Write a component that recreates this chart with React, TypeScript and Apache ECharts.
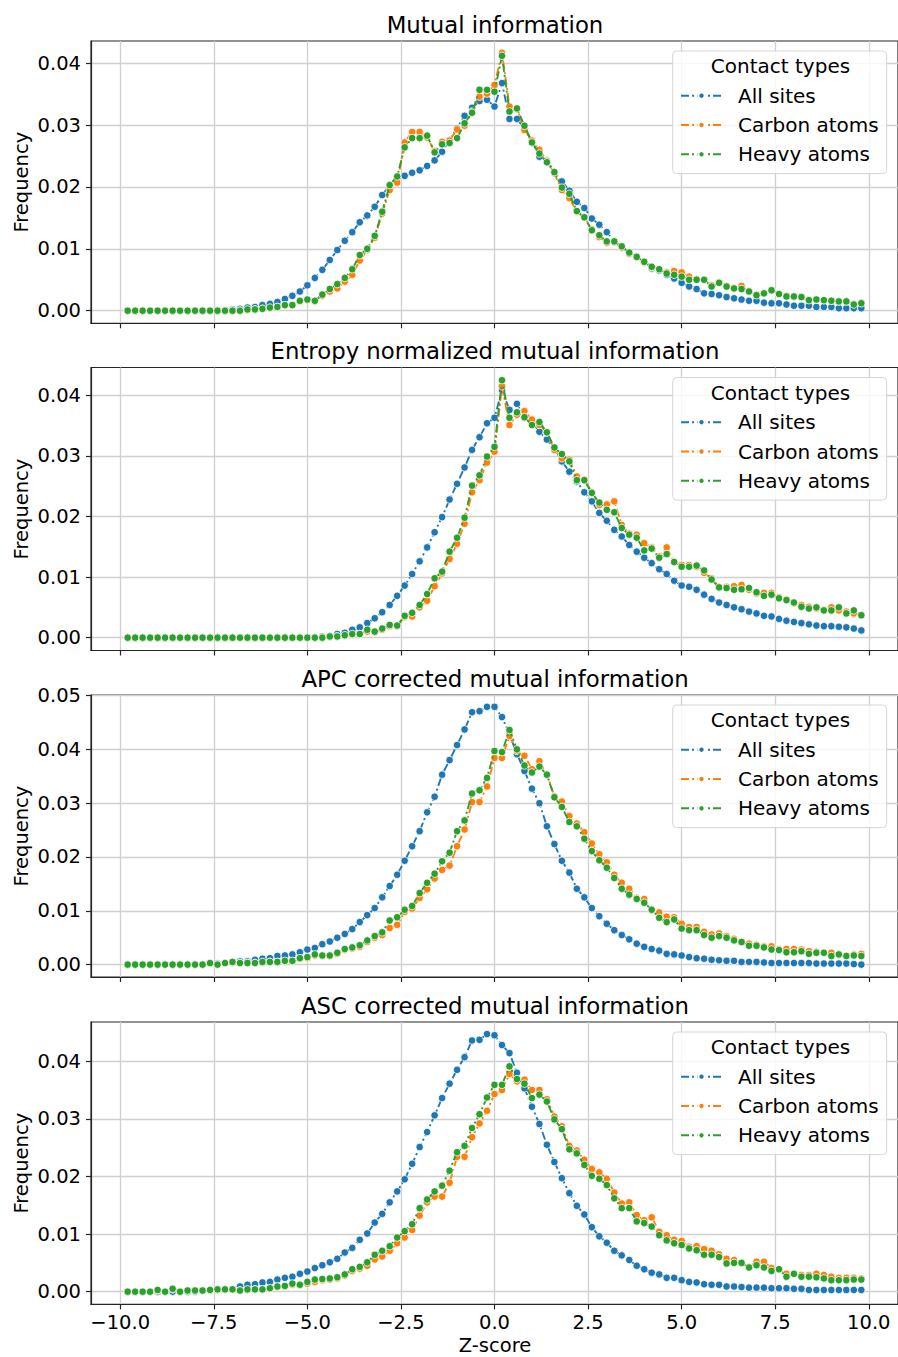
import React, { useEffect, useRef } from "react";
import * as echarts from "echarts";

// ---------------- data ----------------
const Z_SCORE = [
  -9.8, -9.6, -9.4, -9.2, -9.0, -8.8, -8.6, -8.4, -8.2, -8.0,
  -7.8, -7.6, -7.4, -7.2, -7.0, -6.8, -6.6, -6.4, -6.2, -6.0,
  -5.8, -5.6, -5.4, -5.2, -5.0, -4.8, -4.6, -4.4, -4.2, -4.0,
  -3.8, -3.6, -3.4, -3.2, -3.0, -2.8, -2.6, -2.4, -2.2, -2.0,
  -1.8, -1.6, -1.4, -1.2, -1.0, -0.8, -0.6, -0.4, -0.2, 0.0,
  0.2, 0.4, 0.6, 0.8, 1.0, 1.2, 1.4, 1.6, 1.8, 2.0,
  2.2, 2.4, 2.6, 2.8, 3.0, 3.2, 3.4, 3.6, 3.8, 4.0,
  4.2, 4.4, 4.6, 4.8, 5.0, 5.2, 5.4, 5.6, 5.8, 6.0,
  6.2, 6.4, 6.6, 6.8, 7.0, 7.2, 7.4, 7.6, 7.8, 8.0,
  8.2, 8.4, 8.6, 8.8, 9.0, 9.2, 9.4, 9.6, 9.8,
];

const SERIES_NAMES = ["All sites", "Carbon atoms", "Heavy atoms"];
const PANEL_TITLES = [
  "Mutual information",
  "Entropy normalized mutual information",
  "APC corrected mutual information",
  "ASC corrected mutual information",
];
const X_TICKS = [-10, -7.5, -5, -2.5, 0, 2.5, 5, 7.5, 10];
const Y_TICKS_A = [0, 0.01, 0.02, 0.03, 0.04];
const Y_TICKS_B = [0, 0.01, 0.02, 0.03, 0.04, 0.05];

// Panel 1: Mutual information
const MI_ALL = [
  0, 0, 0, 0, 0, 0, 0, 0, 0, 0, 0, 0, 0.0001, 0.0001, 0.0002,
  0.0003, 0.0005, 0.0006, 0.0009, 0.0011, 0.0014, 0.0019, 0.0024, 0.0031, 0.0041,
  0.0053, 0.0066, 0.0082, 0.0098, 0.0113, 0.0127, 0.0143, 0.0154, 0.0168, 0.0187,
  0.0203, 0.0214, 0.0218, 0.0223, 0.0227, 0.0234, 0.0243, 0.0257, 0.0276, 0.0295,
  0.0315, 0.0328, 0.0339, 0.0341, 0.0330,
  0.0368, 0.0310, 0.0310, 0.0295, 0.0275, 0.0249, 0.0243, 0.0224, 0.0209, 0.0194,
  0.0176, 0.0166, 0.0149, 0.0139, 0.0127, 0.0112, 0.0102, 0.0093, 0.0087, 0.0078,
  0.0068, 0.0065, 0.0058, 0.0052, 0.0045, 0.0039, 0.0035, 0.0028, 0.0027, 0.0025,
  0.0022, 0.0020, 0.0018, 0.0016, 0.0016, 0.0013, 0.0012, 0.0012, 0.0010, 0.0008,
  0.0008, 0.0008, 0.0006, 0.0006, 0.0006, 0.0004, 0.0004, 0.0004, 0.0004,
];
const MI_CARBON = [
  0, 0, 0, 0, 0, 0, 0, 0, 0, 0, 0, 0, 0, 0, 0, 0,
  0.0001, 0.0002, 0.0003, 0.0004, 0.0006, 0.0008, 0.0009, 0.0015, 0.0017,
  0.0015, 0.0024, 0.0031, 0.0036, 0.0047, 0.0058, 0.0081, 0.0098, 0.0118, 0.0157,
  0.0195, 0.0207, 0.0272, 0.0289, 0.0289, 0.0280, 0.0258, 0.0273, 0.0275, 0.0293,
  0.0299, 0.0322, 0.0346, 0.0351, 0.0365,
  0.0417, 0.0330, 0.0327, 0.0292, 0.0275, 0.0260, 0.0242, 0.0222, 0.0195, 0.0182,
  0.0160, 0.0150, 0.0132, 0.0119, 0.0110, 0.0111, 0.0102, 0.0092, 0.0086, 0.0078,
  0.0070, 0.0067, 0.0062, 0.0064, 0.0062, 0.0055, 0.0051, 0.0050, 0.0041, 0.0046,
  0.0040, 0.0037, 0.0040, 0.0032, 0.0026, 0.0028, 0.0033, 0.0027, 0.0024, 0.0023,
  0.0022, 0.0018, 0.0018, 0.0017, 0.0016, 0.0015, 0.0015, 0.0011, 0.0013,
];
const MI_HEAVY = [
  0, 0, 0, 0, 0, 0, 0, 0, 0, 0, 0, 0, 0, 0, 0, 0,
  0.0002, 0.0002, 0.0003, 0.0005, 0.0006, 0.0009, 0.0009, 0.0016, 0.0018,
  0.0016, 0.0026, 0.0035, 0.0043, 0.0053, 0.0067, 0.0090, 0.0100, 0.0121, 0.0160,
  0.0203, 0.0217, 0.0264, 0.0279, 0.0279, 0.0283, 0.0256, 0.0269, 0.0271, 0.0279,
  0.0303, 0.0320, 0.0357, 0.0357, 0.0354,
  0.0412, 0.0322, 0.0327, 0.0299, 0.0272, 0.0254, 0.0240, 0.0224, 0.0199, 0.0189,
  0.0161, 0.0151, 0.0130, 0.0122, 0.0112, 0.0112, 0.0104, 0.0094, 0.0087, 0.0079,
  0.0071, 0.0067, 0.0060, 0.0058, 0.0055, 0.0050, 0.0050, 0.0050, 0.0039, 0.0045,
  0.0039, 0.0036, 0.0035, 0.0031, 0.0025, 0.0028, 0.0033, 0.0027, 0.0023, 0.0023,
  0.0022, 0.0017, 0.0018, 0.0017, 0.0016, 0.0015, 0.0015, 0.0010, 0.0012,
];

// Panel 2: Entropy normalized mutual information
const NMI_ALL = [
  0, 0, 0, 0, 0, 0, 0, 0, 0, 0, 0, 0, 0, 0, 0, 0, 0, 0, 0, 0, 0, 0, 0, 0,
  0.0001, 0.0001, 0.0002,
  0.0003, 0.0006, 0.0008, 0.0013, 0.0017, 0.0024, 0.0032, 0.0042,
  0.0054, 0.0069, 0.0086, 0.0105, 0.0126, 0.0149, 0.0174, 0.0199, 0.0228, 0.0254,
  0.0281, 0.0310, 0.0331, 0.0354, 0.0363,
  0.0409, 0.0376, 0.0386, 0.0363, 0.0357, 0.0340, 0.0327, 0.0313, 0.0291, 0.0274,
  0.0258, 0.0240, 0.0225, 0.0206, 0.0193, 0.0178, 0.0167, 0.0153, 0.0142, 0.0132,
  0.0123, 0.0113, 0.0105, 0.0094, 0.0086, 0.0084, 0.0079, 0.0071, 0.0064, 0.0058,
  0.0054, 0.0050, 0.0047, 0.0043, 0.0040, 0.0036, 0.0035, 0.0031, 0.0028, 0.0026,
  0.0024, 0.0022, 0.0020, 0.0019, 0.0019, 0.0018, 0.0017, 0.0015, 0.0012,
];
const NMI_CARBON = [
  0, 0, 0, 0, 0, 0, 0, 0, 0, 0, 0, 0, 0, 0, 0, 0, 0, 0, 0, 0, 0, 0, 0, 0, 0, 0, 0,
  0.0001, 0.0002, 0.0003, 0.0005, 0.0006, 0.0010, 0.0009, 0.0013,
  0.0019, 0.0019, 0.0034, 0.0035, 0.0050, 0.0061, 0.0085, 0.0106, 0.0130, 0.0155,
  0.0188, 0.0240, 0.0260, 0.0289, 0.0307,
  0.0415, 0.0351, 0.0368, 0.0374, 0.0360, 0.0351, 0.0339, 0.0310, 0.0296, 0.0294,
  0.0266, 0.0261, 0.0240, 0.0219, 0.0220, 0.0225, 0.0186, 0.0172, 0.0170, 0.0156,
  0.0149, 0.0134, 0.0149, 0.0125, 0.0120, 0.0120, 0.0117, 0.0107, 0.0098, 0.0084,
  0.0084, 0.0085, 0.0087, 0.0079, 0.0073, 0.0074, 0.0074, 0.0067, 0.0063, 0.0057,
  0.0054, 0.0051, 0.0048, 0.0046, 0.0050, 0.0045, 0.0043, 0.0040, 0.0037,
];
const NMI_HEAVY = [
  0, 0, 0, 0, 0, 0, 0, 0, 0, 0, 0, 0, 0, 0, 0, 0, 0, 0, 0, 0, 0, 0, 0, 0, 0, 0, 0,
  0.0002, 0.0002, 0.0004, 0.0006, 0.0006, 0.0013, 0.0010, 0.0015,
  0.0021, 0.0020, 0.0036, 0.0041, 0.0054, 0.0072, 0.0098, 0.0109, 0.0142, 0.0165,
  0.0198, 0.0251, 0.0268, 0.0299, 0.0315,
  0.0425, 0.0363, 0.0372, 0.0364, 0.0351, 0.0356, 0.0339, 0.0314, 0.0303, 0.0291,
  0.0260, 0.0260, 0.0239, 0.0223, 0.0211, 0.0207, 0.0181, 0.0170, 0.0165, 0.0144,
  0.0147, 0.0132, 0.0138, 0.0125, 0.0117, 0.0117, 0.0119, 0.0111, 0.0096, 0.0083,
  0.0082, 0.0079, 0.0080, 0.0082, 0.0075, 0.0069, 0.0071, 0.0065, 0.0062, 0.0058,
  0.0051, 0.0048, 0.0050, 0.0045, 0.0045, 0.0050, 0.0040, 0.0045, 0.0037,
];

// Panel 3: APC corrected mutual information
const APC_ALL = [
  0, 0, 0, 0, 0, 0, 0, 0, 0, 0, 0, 0.0002, 0.0002, 0.0003, 0.0004,
  0.0006, 0.0006, 0.0009, 0.0011, 0.0012, 0.0016, 0.0017, 0.0019, 0.0023, 0.0028,
  0.0031, 0.0038, 0.0043, 0.0050, 0.0057, 0.0066, 0.0079, 0.0092, 0.0105, 0.0125,
  0.0146, 0.0167, 0.0193, 0.0220, 0.0248, 0.0283, 0.0312, 0.0353, 0.0380, 0.0408,
  0.0437, 0.0469, 0.0471, 0.0479, 0.0479,
  0.0460, 0.0428, 0.0391, 0.0360, 0.0327, 0.0300, 0.0257, 0.0224, 0.0193, 0.0171,
  0.0141, 0.0125, 0.0105, 0.0090, 0.0076, 0.0064, 0.0055, 0.0047, 0.0039, 0.0033,
  0.0029, 0.0026, 0.0020, 0.0019, 0.0017, 0.0014, 0.0012, 0.0011, 0.0009, 0.0008,
  0.0007, 0.0007, 0.0005, 0.0005, 0.0005, 0.0004, 0.0003, 0.0003, 0.0003, 0.0003,
  0.0003, 0.0003, 0.0002, 0.0002, 0.0002, 0.0002, 0.0002, 0.0001, 0.0000,
];
const APC_CARBON = [
  0, 0, 0, 0, 0, 0, 0, 0, 0, 0, 0, 0.0002, 0, 0.0003, 0.0004,
  0.0003, 0.0003, 0.0003, 0.0004, 0.0005, 0.0005, 0.0006, 0.0006, 0.0011, 0.0012,
  0.0017, 0.0016, 0.0016, 0.0020, 0.0027, 0.0030, 0.0033, 0.0042, 0.0050, 0.0055,
  0.0068, 0.0074, 0.0098, 0.0104, 0.0124, 0.0140, 0.0160, 0.0176, 0.0184, 0.0220,
  0.0251, 0.0302, 0.0302, 0.0331, 0.0384,
  0.0384, 0.0425, 0.0397, 0.0388, 0.0363, 0.0378, 0.0353, 0.0313, 0.0303, 0.0276,
  0.0262, 0.0246, 0.0225, 0.0205, 0.0190, 0.0167, 0.0152, 0.0141, 0.0124, 0.0122,
  0.0101, 0.0097, 0.0089, 0.0088, 0.0076, 0.0070, 0.0070, 0.0061, 0.0056, 0.0058,
  0.0053, 0.0048, 0.0042, 0.0039, 0.0037, 0.0034, 0.0034, 0.0029, 0.0029, 0.0029,
  0.0028, 0.0025, 0.0024, 0.0022, 0.0022, 0.0019, 0.0017, 0.0019, 0.0020,
];
const APC_HEAVY = [
  0, 0, 0, 0, 0, 0, 0, 0, 0, 0, 0, 0.0003, 0, 0.0003, 0.0005,
  0.0003, 0.0003, 0.0003, 0.0005, 0.0005, 0.0005, 0.0007, 0.0007, 0.0012, 0.0014,
  0.0019, 0.0017, 0.0017, 0.0022, 0.0029, 0.0032, 0.0036, 0.0045, 0.0053, 0.0060,
  0.0082, 0.0088, 0.0102, 0.0109, 0.0133, 0.0152, 0.0169, 0.0192, 0.0208, 0.0248,
  0.0268, 0.0318, 0.0324, 0.0347, 0.0397,
  0.0395, 0.0436, 0.0400, 0.0370, 0.0357, 0.0368, 0.0353, 0.0311, 0.0293, 0.0265,
  0.0257, 0.0234, 0.0211, 0.0194, 0.0180, 0.0161, 0.0141, 0.0130, 0.0122, 0.0115,
  0.0102, 0.0087, 0.0079, 0.0084, 0.0067, 0.0064, 0.0064, 0.0055, 0.0050, 0.0053,
  0.0050, 0.0045, 0.0042, 0.0035, 0.0035, 0.0032, 0.0028, 0.0027, 0.0023, 0.0023,
  0.0025, 0.0020, 0.0022, 0.0022, 0.0016, 0.0019, 0.0016, 0.0017, 0.0016,
];

// Panel 4: ASC corrected mutual information
const ASC_ALL = [
  0, 0, 0, 0, 0, 0, 0, 0, 0, 0, 0.0002, 0.0002, 0.0003, 0.0004, 0.0004,
  0.0009, 0.0012, 0.0013, 0.0016, 0.0017, 0.0021, 0.0024, 0.0026, 0.0031, 0.0035,
  0.0041, 0.0046, 0.0051, 0.0057, 0.0068, 0.0076, 0.0090, 0.0101, 0.0120, 0.0135,
  0.0155, 0.0174, 0.0195, 0.0222, 0.0251, 0.0277, 0.0306, 0.0336, 0.0361, 0.0385,
  0.0407, 0.0436, 0.0437, 0.0447, 0.0445,
  0.0428, 0.0414, 0.0380, 0.0353, 0.0321, 0.0291, 0.0255, 0.0225, 0.0197, 0.0171,
  0.0149, 0.0134, 0.0112, 0.0096, 0.0085, 0.0071, 0.0063, 0.0055, 0.0045, 0.0039,
  0.0033, 0.0030, 0.0024, 0.0024, 0.0020, 0.0017, 0.0016, 0.0013, 0.0012, 0.0012,
  0.0009, 0.0009, 0.0008, 0.0007, 0.0007, 0.0007, 0.0006, 0.0006, 0.0006, 0.0005,
  0.0005, 0.0003, 0.0003, 0.0003, 0.0003, 0.0003, 0.0003, 0.0003, 0.0003,
];
const ASC_CARBON = [
  0, 0, 0, 0, 0.0002, 0, 0.0004, 0, 0.0002, 0.0002, 0.0002, 0.0003, 0.0003, 0.0004, 0.0004,
  0.0002, 0.0003, 0.0004, 0.0004, 0.0005, 0.0008, 0.0009, 0.0012, 0.0011, 0.0014,
  0.0017, 0.0020, 0.0021, 0.0023, 0.0028, 0.0036, 0.0040, 0.0045, 0.0056, 0.0061,
  0.0071, 0.0084, 0.0094, 0.0107, 0.0132, 0.0155, 0.0165, 0.0165, 0.0189, 0.0234,
  0.0234, 0.0268, 0.0292, 0.0314, 0.0343,
  0.0350, 0.0378, 0.0365, 0.0368, 0.0350, 0.0350, 0.0334, 0.0304, 0.0287, 0.0253,
  0.0245, 0.0229, 0.0213, 0.0207, 0.0196, 0.0172, 0.0153, 0.0155, 0.0133, 0.0124,
  0.0129, 0.0104, 0.0098, 0.0090, 0.0088, 0.0078, 0.0079, 0.0074, 0.0071, 0.0065,
  0.0057, 0.0055, 0.0049, 0.0043, 0.0052, 0.0052, 0.0041, 0.0038, 0.0031, 0.0031,
  0.0029, 0.0029, 0.0031, 0.0029, 0.0026, 0.0024, 0.0024, 0.0024, 0.0023,
];
const ASC_HEAVY = [
  0, 0, 0, 0, 0.0003, 0, 0.0005, 0, 0.0002, 0.0002, 0.0002, 0.0003, 0.0004, 0.0004, 0.0004,
  0.0002, 0.0004, 0.0004, 0.0004, 0.0006, 0.0009, 0.0010, 0.0014, 0.0012, 0.0017,
  0.0021, 0.0022, 0.0023, 0.0025, 0.0030, 0.0039, 0.0043, 0.0051, 0.0064, 0.0071,
  0.0079, 0.0094, 0.0105, 0.0117, 0.0145, 0.0160, 0.0174, 0.0184, 0.0210, 0.0242,
  0.0253, 0.0284, 0.0308, 0.0337, 0.0359,
  0.0359, 0.0391, 0.0369, 0.0361, 0.0336, 0.0342, 0.0330, 0.0299, 0.0282, 0.0247,
  0.0240, 0.0220, 0.0201, 0.0196, 0.0185, 0.0162, 0.0145, 0.0145, 0.0122, 0.0119,
  0.0113, 0.0098, 0.0089, 0.0084, 0.0081, 0.0075, 0.0072, 0.0064, 0.0064, 0.0060,
  0.0049, 0.0050, 0.0050, 0.0042, 0.0046, 0.0042, 0.0036, 0.0039, 0.0026, 0.0031,
  0.0026, 0.0026, 0.0025, 0.0023, 0.0020, 0.0020, 0.0020, 0.0021, 0.0021,
];

const PANEL_DATA = [
  [MI_ALL, MI_CARBON, MI_HEAVY],
  [NMI_ALL, NMI_CARBON, NMI_HEAVY],
  [APC_ALL, APC_CARBON, APC_HEAVY],
  [ASC_ALL, ASC_CARBON, ASC_HEAVY],
];

// ---------------- layout / style ----------------
const W = 898;
const H = 1357;
const FONT = "'DejaVu Sans', 'Liberation Sans', sans-serif";
const COLORS = ["#1f77b4", "#ff7f0e", "#2ca02c"];
const GRID_LEFT = 91;
const GRID_WIDTH = 808;
const GRID_TOPS = [41, 367.5, 695, 1022];
const GRID_HEIGHTS = [282.3, 283, 282, 282.3];
const Y_RANGES = [
  [-0.00204, 0.0436],
  [-0.00212, 0.0446],
  [-0.0023, 0.0501],
  [-0.00219, 0.0468],
];
const X_RANGE = [-10.78, 10.78];
const AXIS_COLOR = "#262626";
const GRID_COLOR = "#d0d0d0";
const LINE_DASH = [8, 3, 2, 3];

function fmtX(v: number) {
  const s = Math.abs(v).toFixed(1);
  return v < 0 ? "\u2212" + s : s;
}

export default function App() {
  const ref = useRef<HTMLDivElement>(null);

  useEffect(() => {
    document.body.style.margin = "0";
    if (!ref.current) return;
    const chart = echarts.init(ref.current, null, { renderer: "svg" });

    const grids: any[] = [];
    const xAxes: any[] = [];
    const yAxes: any[] = [];
    const series: any[] = [];
    const legends: any[] = [];
    const graphics: any[] = [];

    for (let k = 0; k < 4; k++) {
      const top = GRID_TOPS[k];
      const h = GRID_HEIGHTS[k];
      grids.push({
        left: GRID_LEFT,
        top,
        width: GRID_WIDTH,
        height: h,
        show: true,
        borderColor: AXIS_COLOR,
        borderWidth: 1.2,
        backgroundColor: "transparent",
        containLabel: false,
      });
      xAxes.push({
        gridIndex: k,
        type: "value",
        min: X_RANGE[0],
        max: X_RANGE[1],
        axisLine: { show: true, onZero: false, lineStyle: { color: AXIS_COLOR, width: 1.2 } },
        axisTick: {
          show: true,
          length: 5,
          customValues: X_TICKS,
          lineStyle: { color: AXIS_COLOR, width: 1.2 },
        },
        axisLabel: {
          show: k === 3,
          customValues: X_TICKS,
          formatter: (v: number) => fmtX(v),
          fontSize: 19.5,
          fontFamily: FONT,
          color: "#000",
          margin: 8,
        },
        splitLine: {
          show: true,
          customValues: X_TICKS,
          lineStyle: { color: GRID_COLOR, width: 1.3 },
        },
      });
      const yt = k === 2 ? Y_TICKS_B : Y_TICKS_A;
      yAxes.push({
        gridIndex: k,
        type: "value",
        min: Y_RANGES[k][0],
        max: Y_RANGES[k][1],
        axisLine: { show: true, onZero: false, lineStyle: { color: AXIS_COLOR, width: 1.2 } },
        axisTick: {
          show: true,
          length: 5,
          customValues: yt,
          lineStyle: { color: AXIS_COLOR, width: 1.2 },
        },
        axisLabel: {
          show: true,
          customValues: yt,
          formatter: (v: number) => v.toFixed(2),
          fontSize: 19.5,
          fontFamily: FONT,
          color: "#000",
          margin: 10,
        },
        splitLine: {
          show: true,
          customValues: yt,
          lineStyle: { color: GRID_COLOR, width: 1.3 },
        },
      });

      PANEL_DATA[k].forEach((vals, s) => {
        series.push({
          type: "line",
          name: SERIES_NAMES[s],
          xAxisIndex: k,
          yAxisIndex: k,
          data: Z_SCORE.map((z, i) => [z, vals[i]]),
          symbol: "circle",
          symbolSize: 7.5,
          showSymbol: true,
          showAllSymbol: true,
          silent: true,
          z: 2 + s * 0.1,
          lineStyle: { color: COLORS[s], width: 1.9, type: LINE_DASH },
          itemStyle: { color: COLORS[s], borderColor: "#ffffff", borderWidth: 0.8 },
          emphasis: { disabled: true },
        });
      });

      legends.push({
        left: 672.7,
        top: top + 10,
        orient: "vertical",
        selectedMode: false,
        itemWidth: 41,
        itemHeight: 8,
        itemGap: 7.3,
        padding: [33.7, 8, 8.3, 7.3],
        backgroundColor: "rgba(255,255,255,0.82)",
        borderColor: "#d6d6d6",
        borderWidth: 1,
        borderRadius: 4,
        data: SERIES_NAMES,
        textStyle: {
          fontSize: 20,
          fontFamily: FONT,
          color: "#000",
          lineHeight: 22,
          padding: [0, 0, 0, 11],
        },
      });

      graphics.push({
        type: "text",
        x: 495,
        y: top - 16.5,
        z: 100,
        style: {
          text: PANEL_TITLES[k],
          fontSize: 22.8,
          fontFamily: FONT,
          fill: "#000",
          align: "center",
          verticalAlign: "middle",
          textAlign: "center",
          textVerticalAlign: "middle",
        },
      });
      graphics.push({
        type: "text",
        x: 21,
        y: top + h / 2,
        rotation: Math.PI / 2,
        z: 100,
        style: {
          text: "Frequency",
          fontSize: 19.5,
          fontFamily: FONT,
          fill: "#000",
          align: "center",
          verticalAlign: "middle",
          textAlign: "center",
          textVerticalAlign: "middle",
        },
      });
      graphics.push({
        type: "text",
        x: 780.5,
        y: top + 25,
        z: 100,
        style: {
          text: "Contact types",
          fontSize: 20,
          fontFamily: FONT,
          fill: "#000",
          align: "center",
          verticalAlign: "middle",
          textAlign: "center",
          textVerticalAlign: "middle",
        },
      });
    }

    graphics.push({
      type: "text",
      x: 495,
      y: 1345,
      z: 100,
      style: {
        text: "Z-score",
        fontSize: 19.5,
        fontFamily: FONT,
        fill: "#000",
        align: "center",
        verticalAlign: "middle",
        textAlign: "center",
        textVerticalAlign: "middle",
      },
    });

    chart.setOption({
      animation: false,
      backgroundColor: "#ffffff",
      textStyle: { fontFamily: FONT },
      grid: grids,
      xAxis: xAxes,
      yAxis: yAxes,
      legend: legends,
      series,
      graphic: { elements: graphics },
    });

    return () => chart.dispose();
  }, []);

  return (
    <div
      ref={ref}
      style={{ position: "absolute", left: 0, top: 0, width: W, height: H }}
    />
  );
}
